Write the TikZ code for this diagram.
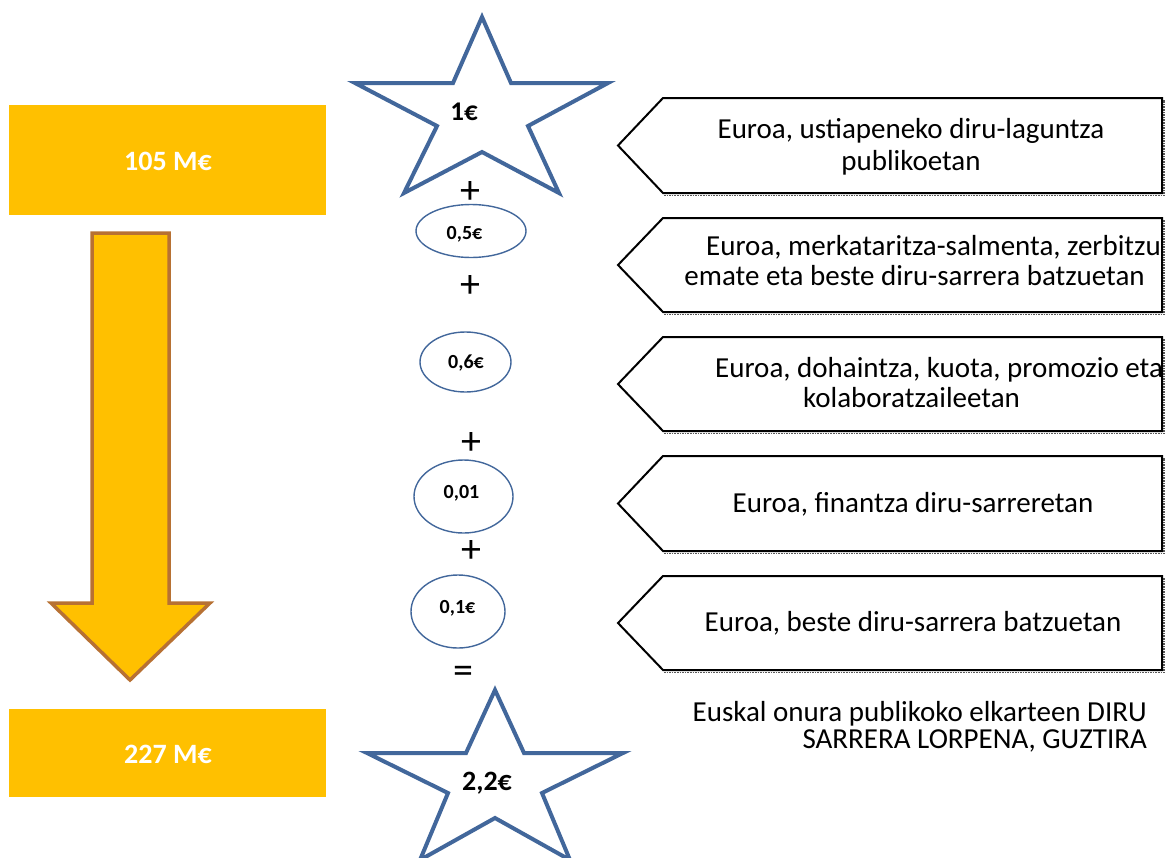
\documentclass[tikz,border=0pt]{standalone}
\usepackage{fontspec}
\setmainfont{Carlito}
\usetikzlibrary{shapes.geometric}
\definecolor{gold}{RGB}{255,192,0}
\definecolor{brownedge}{RGB}{183,113,51}
\definecolor{starblue}{RGB}{66,103,155}
\tikzset{
  goldbox/.style={fill=gold, draw=none, inner sep=0},
  valtxt/.style={font=\fontsize{28}{30}\selectfont\bfseries, text=white, anchor=base, inner sep=0},
  startxt/.style={font=\fontsize{27}{30}\selectfont\bfseries, anchor=base, inner sep=0},
  elltxt/.style={font=\fontsize{20}{22}\selectfont\bfseries, anchor=base, inner sep=0},
  optxt/.style={font=\fontsize{40}{42}\selectfont, anchor=center, inner sep=0},
  lbl/.style={font=\fontsize{29}{31}\selectfont, anchor=base, inner sep=0},
  starline/.style={draw=starblue, line width=4pt, line join=miter, fill=white},
  ellline/.style={ellipse, draw=starblue, line width=1.4pt, inner sep=0},
  tagline/.style={draw=black, line width=2pt, fill=white, line join=miter},
  tagshadow/.style={draw=black!65, line width=1.6pt, densely dotted},
}
\begin{document}
\begin{tikzpicture}[x=1pt,y=-1pt]
\useasboundingbox (0,0) rectangle (1170,857);
\clip (0,0) rectangle (1170,857);

% left gold boxes
\node[goldbox, minimum width=317pt, minimum height=110pt] (topbox) at (167.5,160) {};
\node[goldbox, minimum width=317pt, minimum height=88pt] (botbox) at (167.5,753) {};
\node[valtxt] (topval) at (168,170) {105 M€};
\node[valtxt] (botval) at (168,763) {227 M€};

% down arrow
\draw[fill=gold, draw=brownedge, line width=3.5pt, line join=miter]
  (92,233) -- (169,233) -- (169,603) -- (210,603) -- (130,680) -- (51,603) -- (92,603) -- cycle;

% stars
\draw[starline] (482,17) -- (511,83) -- (608,83) -- (528,126) -- (559,193) -- (482,152)
  -- (404,193) -- (437,126) -- (355,83) -- (453,83) -- cycle;
\node[startxt] (s1) at (464,120) {1€};

\draw[starline] (495,690) -- (524,753) -- (623,753) -- (542,793) -- (570,860) -- (495,818)
  -- (420,860) -- (448,793) -- (367,753) -- (466,753) -- cycle;
\node[startxt, font=\fontsize{28}{30}\selectfont\bfseries] (s2) at (487,790) {2,2€};

% ellipses
\node[ellline, minimum width=110pt, minimum height=53pt] (e1) at (471,231) {};
\node[elltxt] (e1t) at (464.5,239) {0,5€};
\node[ellline, minimum width=91pt, minimum height=60pt] (e2) at (465.5,362) {};
\node[elltxt] (e2t) at (466,368) {0,6€};
\node[ellline, minimum width=99pt, minimum height=73pt] (e3) at (463.5,496.5) {};
\node[elltxt] (e3t) at (461.5,498) {0,01};
\node[ellline, minimum width=94pt, minimum height=73pt] (e4) at (458,611.5) {};
\node[elltxt] (e4t) at (457.5,613) {0,1€};

% operators
\node[optxt] (p1) at (470,192) {+};
\node[optxt] (p2) at (470,286) {+};
\node[optxt] (p3) at (471,443) {+};
\node[optxt] (p4) at (471,551) {+};
\node[optxt] (eq) at (463,675) {=};

% tag boxes
\foreach \t/\b in {98/193,218/312,337/431,456/551,576/670} {
  \draw[tagshadow] (664,{\b+2.5}) -- (1164,{\b+2.5}) -- (1164,{\t+2});
  \draw[tagline] (663,\t) -- (1162,\t) -- (1162,\b) -- (663,\b) -- (618,{(\t+\b)/2}) -- cycle;
}

\node[lbl] (a1a) at (911,138) {Euroa, ustiapeneko diru-laguntza};
\node[lbl] (a1b) at (911,170) {publikoetan};
\node[lbl, anchor=base west] (a2a) at (706,255) {Euroa, merkataritza-salmenta, zerbitzu};
\node[lbl] (a2b) at (914.5,285) {emate eta beste diru-sarrera batzuetan};
\node[lbl, anchor=base west] (a3a) at (715,377) {Euroa, dohaintza, kuota, promozio eta};
\node[lbl] (a3b) at (911.5,407) {kolaboratzaileetan};
\node[lbl] (a4) at (913,512) {Euroa, finantza diru-sarreretan};
\node[lbl] (a5) at (913,631) {Euroa, beste diru-sarrera batzuetan};

% total caption
\node[lbl, anchor=base east] (tot1) at (1147,721) {Euskal onura publikoko elkarteen DIRU};
\node[lbl, anchor=base east] (tot2) at (1147,748) {SARRERA LORPENA, GUZTIRA};
\end{tikzpicture}
\end{document}
